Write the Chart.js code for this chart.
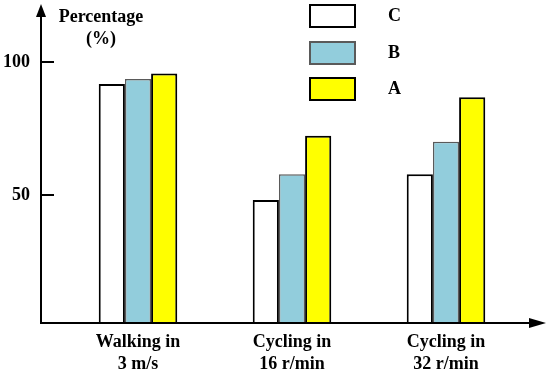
<!DOCTYPE html>
<html>
<head>
<meta charset="utf-8">
<title>Percentage by activity</title>
<script src="https://cdn.jsdelivr.net/npm/chart.js@4.4.1/dist/chart.umd.min.js"></script>
<style>
  html, body { margin: 0; padding: 0; background: #fff; }
  canvas { display: block; }
</style>
</head>
<body>
<canvas id="chart" width="550" height="382"></canvas>
<script>
// data
const categories = [['Walking in', '3 m/s'], ['Cycling in', '16 r/min'], ['Cycling in', '32 r/min']];
const seriesNames = ['C', 'B', 'A'];
const valuesC = [91.8, 48.2, 57.9];
const valuesB = [93.7, 57.9, 70.1];
const valuesA = [95.8, 72.4, 86.8];
const yTicks = [50, 100];

const FONT = "'Liberation Serif', 'Times New Roman', serif";

// axis lines with arrow heads + small inward tick marks
const axisArrows = {
    id: 'axisArrows',
    afterDatasetsDraw(chart) {
        const ctx = chart.ctx;
        const ca = chart.chartArea;
        const yScale = chart.scales.y;
        const x0 = ca.left - 20;
        const y0 = ca.bottom;
        ctx.save();
        ctx.strokeStyle = '#000';
        ctx.fillStyle = '#000';
        ctx.lineWidth = 2;

        ctx.beginPath();
        ctx.moveTo(x0, y0 + 1);
        ctx.lineTo(x0, 14);
        ctx.stroke();
        ctx.beginPath();
        ctx.moveTo(x0, 4);
        ctx.lineTo(x0 - 5, 17);
        ctx.lineTo(x0 + 5, 17);
        ctx.closePath();
        ctx.fill();

        ctx.beginPath();
        ctx.moveTo(x0 - 1, y0);
        ctx.lineTo(535, y0);
        ctx.stroke();
        ctx.beginPath();
        ctx.moveTo(546, y0);
        ctx.lineTo(529, y0 - 5);
        ctx.lineTo(529, y0 + 5);
        ctx.closePath();
        ctx.fill();

        yTicks.forEach(v => {
            const py = Math.round(yScale.getPixelForValue(v));
            ctx.beginPath();
            ctx.moveTo(x0, py);
            ctx.lineTo(x0 + 13, py);
            ctx.stroke();
        });

        // axis title, horizontal at the top of the y axis
        ctx.font = 'bold 18px ' + FONT;
        ctx.textAlign = 'center';
        ctx.textBaseline = 'alphabetic';
        ctx.fillText('Percentage', 101, 22);
        ctx.fillText('(%)', 101, 44);
        ctx.restore();
    }
};

// legend drawn as a column of boxes in the upper middle
const boxLegend = {
    id: 'boxLegend',
    afterDraw(chart) {
        const ctx = chart.ctx;
        ctx.save();
        ctx.font = 'bold 18px ' + FONT;
        ctx.textAlign = 'left';
        ctx.textBaseline = 'middle';
        chart.data.datasets.forEach((ds, i) => {
            const top = Math.round(4 + i * 36.5);
            ctx.fillStyle = ds.backgroundColor;
            ctx.fillRect(310, top + 1, 45, 22);
            ctx.strokeStyle = ds.borderColor;
            ctx.lineWidth = 2;
            ctx.strokeRect(310, top + 1, 45, 22);
            ctx.fillStyle = '#000';
            ctx.fillText(ds.label, 388, top + 12);
        });
        ctx.restore();
    }
};

const datasets = [
    { label: seriesNames[0], data: valuesC, backgroundColor: '#ffffff', borderColor: '#000000', borderWidth: 2 },
    { label: seriesNames[1], data: valuesB, backgroundColor: '#92cddc', borderColor: '#5a5a5a', borderWidth: 1.5 },
    { label: seriesNames[2], data: valuesA, backgroundColor: '#ffff00', borderColor: '#000000', borderWidth: 2 }
];

new Chart(document.getElementById('chart'), {
    type: 'bar',
    data: { labels: categories, datasets: datasets },
    options: {
        responsive: false,
        animation: false,
        devicePixelRatio: 1,
        layout: { padding: { left: 0, right: 27, top: 9, bottom: 0 } },
        datasets: {
            bar: { categoryPercentage: 0.51, barPercentage: 1.0, borderSkipped: 'start' }
        },
        plugins: {
            legend: { display: false },
            tooltip: { enabled: false }
        },
        scales: {
            x: {
                grid: { display: false, drawTicks: false },
                border: { display: false },
                ticks: {
                    color: '#000',
                    padding: 8,
                    maxRotation: 0,
                    font: { family: FONT, size: 18, weight: 'bold', lineHeight: 1.25 }
                },
                afterFit: s => {
                    s.height = 59;
                    s.paddingLeft = 0;
                    s.paddingRight = 0;
                }
            },
            y: {
                min: 2,
                max: 120,
                grid: { display: false, drawTicks: false },
                border: { display: false },
                afterBuildTicks: s => { s.ticks = yTicks.map(v => ({ value: v })); },
                ticks: {
                    color: '#000',
                    padding: 31,
                    font: { family: FONT, size: 18, weight: 'bold' }
                },
                afterFit: s => {
                    s.width = 61;
                    // keep the label padding from shrinking the plot area
                    s.paddingTop = 0;
                    s.paddingBottom = 0;
                }
            }
        }
    },
    plugins: [axisArrows, boxLegend]
});
</script>
</body>
</html>
